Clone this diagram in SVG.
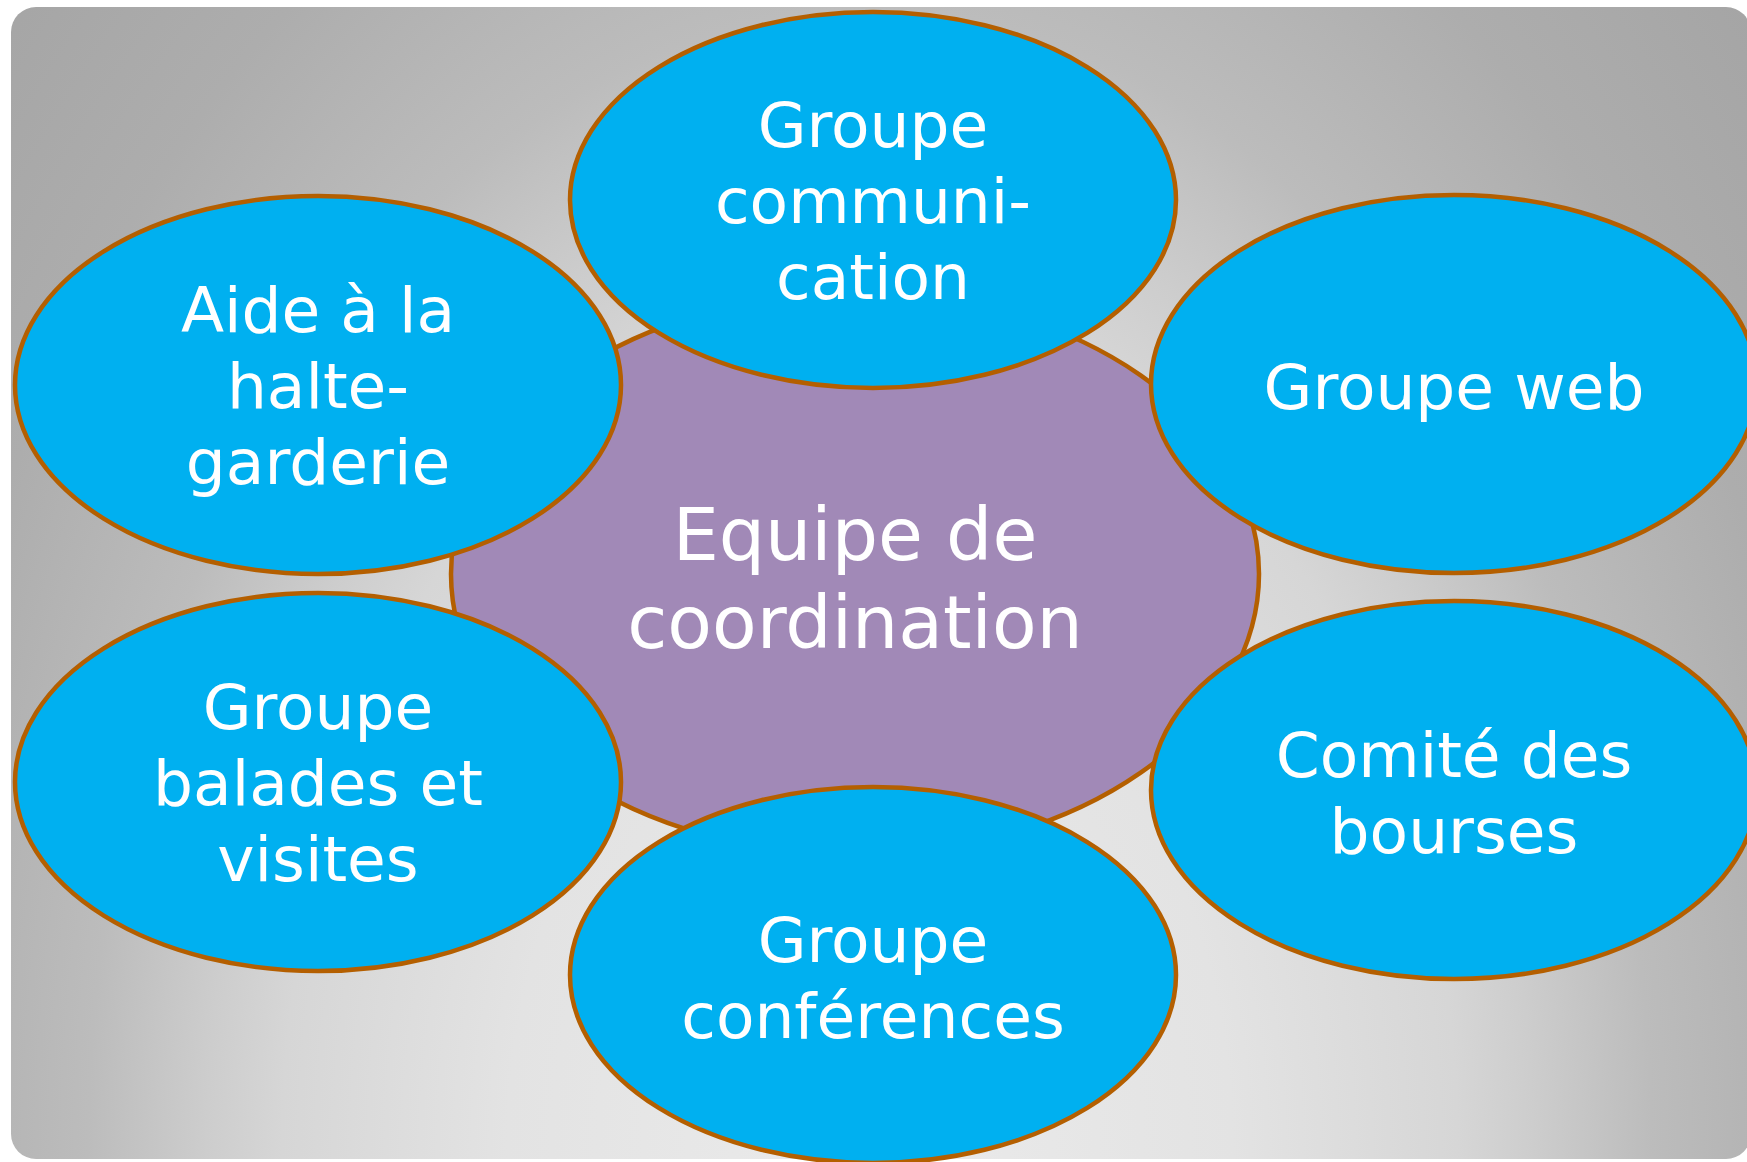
<svg xmlns="http://www.w3.org/2000/svg" width="1747" height="1162" viewBox="0 0 1747 1162">
  <defs>
    <radialGradient id="bg" gradientUnits="userSpaceOnUse" cx="870" cy="1160" r="1840" gradientTransform="translate(870 1160) scale(0.68 1) translate(-870 -1160)">
      <stop offset="0" stop-color="#ebebeb"/>
      <stop offset="0.29" stop-color="#e3e3e3"/>
      <stop offset="0.47" stop-color="#d6d6d6"/>
      <stop offset="0.53" stop-color="#cdcdcd"/>
      <stop offset="0.625" stop-color="#bcbcbc"/>
      <stop offset="0.78" stop-color="#adadad"/>
      <stop offset="1" stop-color="#a2a2a2"/>
    </radialGradient>
    <style>
      .sat { fill: #00b0f0; stroke: #b45f00; stroke-width: 4.5; }
      .hub { fill: #a189b7; stroke: #b45f00; stroke-width: 4.5; }
      .t { font-family: "DejaVu Sans", Verdana, sans-serif; fill: #ffffff; text-anchor: middle; font-size: 63px; }
      .ht { font-family: "DejaVu Sans", Verdana, sans-serif; fill: #ffffff; text-anchor: middle; font-size: 73px; }
    </style>
  </defs>
  <rect x="11" y="7" width="1740" height="1152" rx="25" ry="25" fill="url(#bg)"/>
  <g id="connectors"></g>
  <g id="hub">
    <ellipse class="hub" cx="855" cy="574" rx="404" ry="281"/>
    <text class="ht" x="855" y="560">Equipe de</text>
    <text class="ht" x="855" y="648">coordination</text>
  </g>
  <g id="communication">
    <ellipse class="sat" cx="873" cy="200" rx="303" ry="188"/>
    <text class="t" x="873" y="147">Groupe</text>
    <text class="t" x="873" y="223">communi-</text>
    <text class="t" x="873" y="299">cation</text>
  </g>
  <g id="halte-garderie">
    <ellipse class="sat" cx="318" cy="385" rx="303" ry="189"/>
    <text class="t" x="318" y="332">Aide à la</text>
    <text class="t" x="318" y="408">halte-</text>
    <text class="t" x="318" y="484">garderie</text>
  </g>
  <g id="web">
    <ellipse class="sat" cx="1454" cy="384" rx="303" ry="189"/>
    <text class="t" x="1454" y="409">Groupe web</text>
  </g>
  <g id="balades">
    <ellipse class="sat" cx="318" cy="782" rx="303" ry="189"/>
    <text class="t" x="318" y="729">Groupe</text>
    <text class="t" x="318" y="805">balades et</text>
    <text class="t" x="318" y="881">visites</text>
  </g>
  <g id="bourses">
    <ellipse class="sat" cx="1454" cy="790" rx="303" ry="189"/>
    <text class="t" x="1454" y="777">Comité des</text>
    <text class="t" x="1454" y="853">bourses</text>
  </g>
  <g id="conferences">
    <ellipse class="sat" cx="873" cy="975" rx="303" ry="188"/>
    <text class="t" x="873" y="962">Groupe</text>
    <text class="t" x="873" y="1038">conférences</text>
  </g>
</svg>
